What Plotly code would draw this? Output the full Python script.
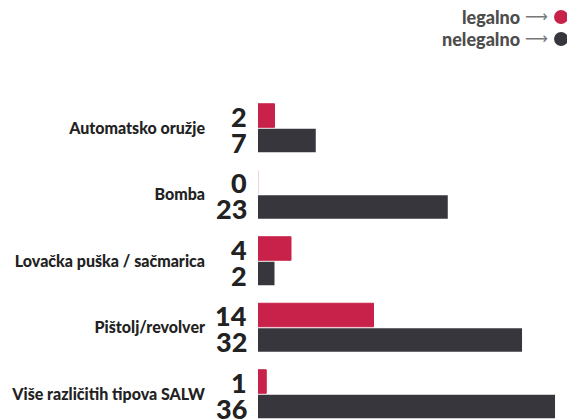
import plotly.graph_objects as go

categories = ["Automatsko oružje", "Bomba", "Lovačka puška / sačmarica", "Pištolj/revolver", "Više različitih tipova SALW"]
legalno = [2, 0, 4, 14, 1]
nelegalno = [7, 23, 2, 32, 36]
series_names = ["legalno", "nelegalno"]

RED = "#c8224a"
DARK = "#38363d"
COND = "Lato, Roboto, sans-serif"

fig = go.Figure()
fig.add_trace(go.Bar(
    y=categories, x=legalno, orientation="h", name=series_names[0],
    marker=dict(color=RED, line=dict(width=1, color=["#f3c2ce" if v == 0 else RED for v in legalno])),
))
fig.add_trace(go.Bar(
    y=categories, x=nelegalno, orientation="h", name=series_names[1],
    marker=dict(color=DARK, line=dict(width=0)),
))

annotations = []
for cat, a, b in zip(categories, legalno, nelegalno):
    for val, shift in ((a, 12), (b, -14)):
        annotations.append(dict(
            x=0, y=cat, xref="x", yref="y", text=str(val), showarrow=False,
            xanchor="right", yanchor="middle", xshift=-9, yshift=shift,
            font=dict(family=COND, size=27, color="#222222", weight=900),
        ))

# legend
leg_y = [1.1198, 1.0585]
for name, yy, col in zip(series_names, leg_y, [RED, DARK]):
    annotations.append(dict(
        x=0.8328, y=yy, xref="paper", yref="paper", text=name, showarrow=False,
        xanchor="right", yanchor="middle",
        font=dict(family=COND, size=18, color="#4d4d4d", weight=900),
    ))
    annotations.append(dict(
        x=0.877, y=yy, xref="paper", yref="paper", text="⟶", showarrow=False,
        xanchor="center", yanchor="middle",
        font=dict(family="DejaVu Sans", size=16, color="#777777"),
    ))

shapes = []
for yy, col in zip(leg_y, [RED, DARK]):
    shapes.append(dict(
        type="circle", xref="paper", yref="paper", xsizemode="pixel", ysizemode="pixel",
        xanchor=0.956, yanchor=yy, x0=-7, x1=7, y0=-7, y1=7,
        fillcolor=col, line=dict(width=0),
    ))

fig.update_layout(
    width=567, height=411,
    margin=dict(l=250, r=0, t=52, b=0, autoexpand=False),
    plot_bgcolor="white", paper_bgcolor="white",
    barmode="group", bargap=0.248, bargroupgap=0.06,
    showlegend=False,
    annotations=annotations, shapes=shapes,
    xaxis=dict(range=[0, 38.42], visible=False, fixedrange=True, automargin=False),
    yaxis=dict(
        range=[4.376, -1.023], showgrid=False, zeroline=False, showline=False,
        ticks="", ticklabelstandoff=52, automargin=False,
        tickfont=dict(family=COND, size=16, color="#222222", weight=900),
    ),
)

fig.write_html("out.html")
